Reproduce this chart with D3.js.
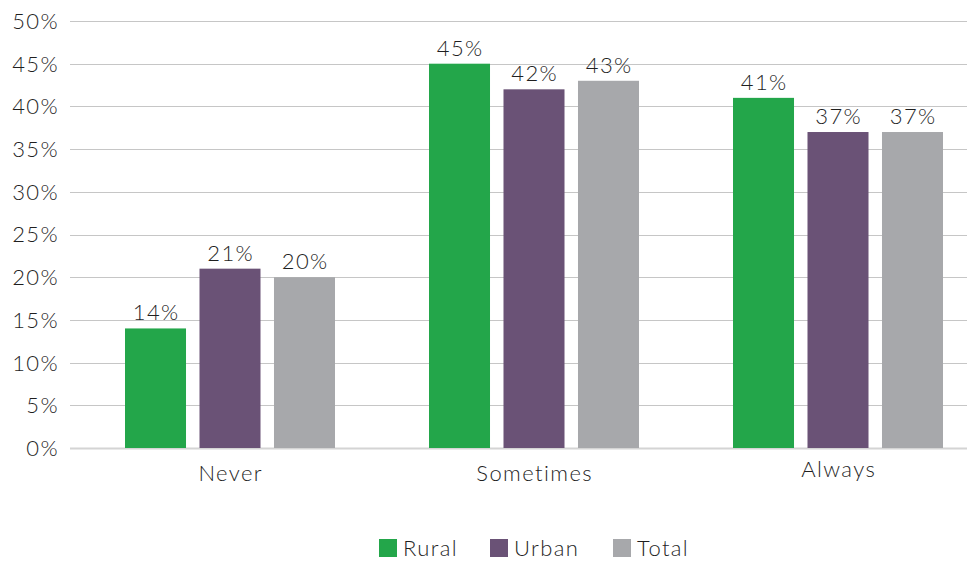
<!DOCTYPE html>
<html>
<head>
<meta charset="utf-8">
<script src="https://cdn.jsdelivr.net/npm/d3@7"></script>
<style>
  html, body { margin: 0; padding: 0; background: #fff; }
  svg { display: block; }
  text { font-family: Lato, "Open Sans", sans-serif; font-weight: 300; fill: #1f1f1f; letter-spacing: 1.4px; font-variant-ligatures: none; }
</style>
</head>
<body>
<svg id="chart" width="967" height="561"></svg>
<script>
// Share of respondents by answer and area
const categories = ["Never", "Sometimes", "Always"];
const series = ["Rural", "Urban", "Total"];
const rural = [14, 45, 41];
const urban = [21, 42, 37];
const total = [20, 43, 37];
const yTicks = [0, 5, 10, 15, 20, 25, 30, 35, 40, 45, 50];
const colors = ["#23a64a", "#6a5276", "#a7a8ab"];

const values = [rural, urban, total];
const rows = categories.map((c, i) => ({
  category: c,
  bars: series.map((s, j) => ({ series: s, value: values[j][i], color: colors[j] }))
}));

const svg = d3.select("#chart");
const gridLeft = 70, gridRight = 967;

const y = d3.scaleLinear().domain([0, 50]).range([448, 21]);
const x0 = d3.scaleBand().domain(categories).range([78, 990]).paddingInner(0).paddingOuter(0);
const x1 = d3.scaleBand().domain(series).range([47, 257]).paddingInner(0.181).paddingOuter(0);

// horizontal gridlines
svg.append("g").selectAll("line")
  .data(yTicks)
  .join("line")
  .attr("x1", gridLeft).attr("x2", gridRight)
  .attr("y1", d => Math.round(y(d)) + 0.5).attr("y2", d => Math.round(y(d)) + 0.5)
  .attr("stroke", d => d === 0 ? "#d4d4d4" : "#c6c6c6")
  .attr("stroke-width", d => d === 0 ? 2 : 1.2);

// y tick labels
svg.append("g").selectAll("text")
  .data(yTicks)
  .join("text")
  .attr("x", 59).attr("y", d => y(d))
  .attr("dy", "0.36em")
  .attr("text-anchor", "end")
  .attr("font-size", 22)
  .text(d => d + "%");

// bars
const groups = svg.append("g").selectAll("g")
  .data(rows)
  .join("g")
  .attr("transform", d => `translate(${x0(d.category)},0)`);

groups.selectAll("rect")
  .data(d => d.bars)
  .join("rect")
  .attr("x", d => x1(d.series))
  .attr("y", d => y(d.value))
  .attr("width", x1.bandwidth())
  .attr("height", d => y(0) - y(d.value))
  .attr("fill", d => d.color);

// value labels
groups.selectAll("text.val")
  .data(d => d.bars)
  .join("text")
  .attr("class", "val")
  .attr("x", d => x1(d.series) + x1.bandwidth() / 2 + 0.7)
  .attr("y", d => y(d.value) - 8)
  .attr("text-anchor", "middle")
  .attr("font-size", 22)
  .text(d => d.value + "%");

// category labels
svg.append("g").selectAll("text")
  .data(categories)
  .join("text")
  .attr("x", d => x0(d) + x0.bandwidth() / 2 + 0.7)
  .attr("y", (d, i) => i === 2 ? 477 : 481)
  .attr("text-anchor", "middle")
  .attr("font-size", 22)
  .text(d => d);

// legend
const legendX = [379, 490, 613];
const legend = svg.append("g").selectAll("g")
  .data(series)
  .join("g")
  .attr("transform", (d, i) => `translate(${legendX[i]},539)`);
legend.append("rect")
  .attr("width", 18).attr("height", 18)
  .attr("fill", (d, i) => colors[i]);
legend.append("text")
  .attr("x", 24).attr("y", 17)
  .attr("font-size", 22)
  .text(d => d);
</script>
</body>
</html>
